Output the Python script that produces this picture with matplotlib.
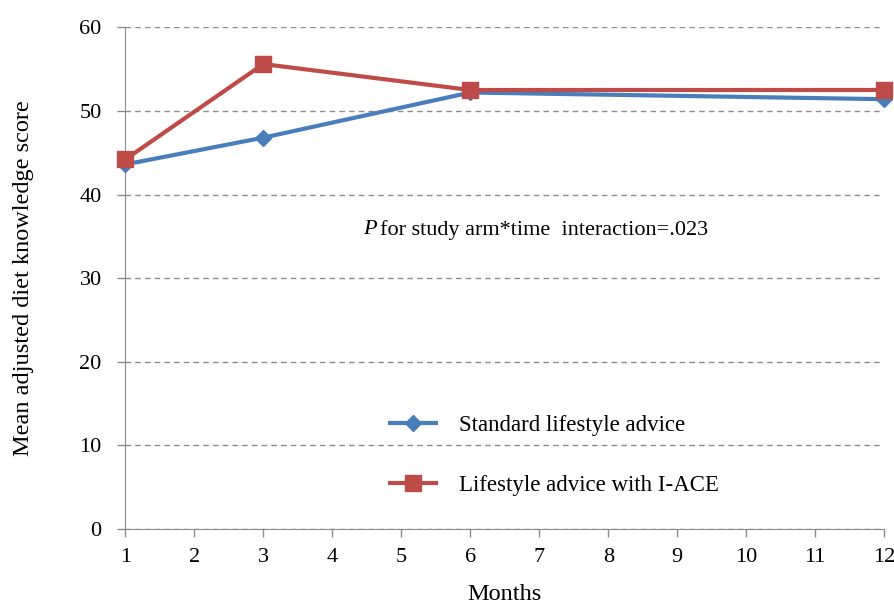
import matplotlib.pyplot as plt

plt.rcParams['font.family'] = ['Liberation Serif', 'DejaVu Serif']

months = [1, 3, 6, 12]
standard = [43.6, 46.8, 52.2, 51.4]
iace = [44.2, 55.6, 52.5, 52.5]

fig = plt.figure(figsize=(8.95, 6.06), dpi=100)
ax = fig.add_axes([0.14, 0.127, 0.848, 0.828])

ax.plot(months, standard, color='#4a7ebb', lw=3, marker='D', ms=8,
        label='Standard lifestyle advice', clip_on=False, zorder=3)
ax.plot(months, iace, color='#be4b48', lw=3, marker='s', ms=11,
        label='Lifestyle advice with I-ACE', clip_on=False, zorder=4)

ax.set_xlim(1, 12)
ax.set_ylim(0, 60)
ax.set_xticks(range(1, 13))
ax.set_yticks(range(0, 61, 10))
ax.yaxis.grid(True, linestyle=(0, (4, 3)), color='#8c8c8c', lw=1)
ax.set_axisbelow(True)
for s in ['top', 'right']:
    ax.spines[s].set_visible(False)
for s in ['left', 'bottom']:
    ax.spines[s].set_color('#8c8c8c')
ax.tick_params(colors='#8c8c8c', labelcolor='black', labelsize=16, length=6, width=1)
ax.tick_params(axis='y', pad=11)
ax.tick_params(axis='x', pad=8)

ax.set_xlabel('Months', fontsize=17.5, labelpad=12)
ax.set_ylabel('Mean adjusted diet knowledge score', fontsize=17.5, labelpad=33)

ax.text(0.313, 0.596, 'P', transform=ax.transAxes, fontsize=16,
        style='italic', ha='left', va='center')
ax.text(0.335, 0.596, 'for study arm*time  interaction=.023', transform=ax.transAxes,
        fontsize=16, ha='left', va='center')

ax.legend(loc='center left', bbox_to_anchor=(0.322, 0.147), frameon=False,
          fontsize=16.5, handlelength=2.0, labelspacing=1.7, handletextpad=1.0)

fig.savefig('out.png')
